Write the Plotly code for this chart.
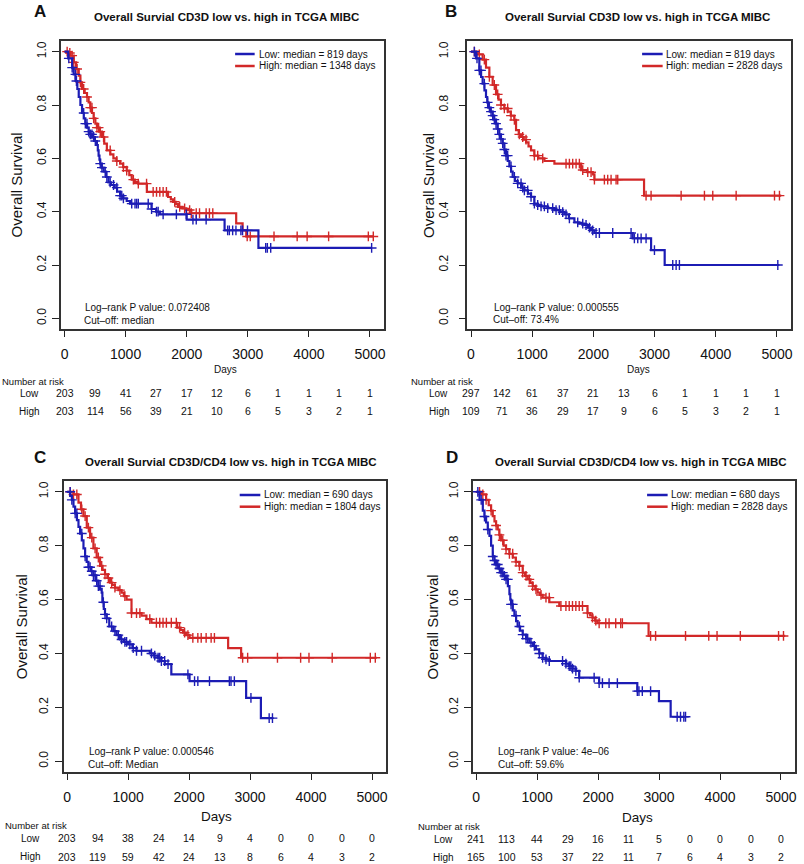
import plotly.graph_objects as go

W, H = 804, 864
FONT = "Arial, Liberation Sans, Helvetica, sans-serif"
BLUE = "#1c1cb4"
RED = "#d22828"
INK = "#111111"

# ---------------- data ----------------
x_ticks = [0, 1000, 2000, 3000, 4000, 5000]
y_ticks = [0.0, 0.2, 0.4, 0.6, 0.8, 1.0]
y_tick_text = ["0.0", "0.2", "0.4", "0.6", "0.8", "1.0"]
risk_days = [0, 500, 1000, 1500, 2000, 2500, 3000, 3500, 4000, 4500, 5000]

# Panel A
A_low_t = [0, 60, 125, 150, 180, 210, 233, 260, 287, 315, 341, 370, 395, 420, 450, 490, 530, 545, 558, 572, 585, 610,
           640, 680, 720, 760, 819, 860, 910, 960, 1018, 1072, 1425, 1500, 1560, 2000, 2620, 3174, 5027]
A_low_s = [1.0, .975, .94, .915, .89, .86, .83, .80, .77, .75, .73, .715, .70, .69, .68, .665, .65, .63, .61, .595, .58,
           .565, .55, .53, .51, .50, .49, .475, .46, .45, .44, .43, .41, .40, .39, .37, .33, .264, .264]
A_low_cens = [70, 125, 179, 195, 314, 341, 368, 395, 422, 449, 477, 504, 585, 612, 666, 693, 747, 802, 856, 910, 937,
              964, 1100, 1154, 1181, 1208, 1370, 1425, 1506, 1533, 1614, 1831, 1993, 2102, 2156, 2318, 2670, 2698,
              2752, 2806, 2887, 2914, 2995, 3293, 3320, 3375, 5027]
A_high_t = [0, 50, 97, 152, 190, 233, 260, 287, 330, 368, 395, 422, 450, 477, 505, 530, 570, 612, 650, 693, 750, 800,
            850, 910, 960, 1018, 1060, 1100, 1150, 1208, 1348, 1695, 1740, 1777, 1820, 1858, 1930, 1993, 2075, 2810,
            2915, 2975, 5054]
A_high_s = [1.0, .995, .985, .96, .935, .91, .885, .86, .845, .83, .81, .79, .77, .75, .73, .715, .70, .68, .655, .63,
            .615, .60, .59, .58, .567, .554, .537, .52, .512, .505, .474, .455, .446, .437, .428, .418, .412, .406,
            .394, .356, .33, .307, .307]
A_high_cens = [43, 87, 125, 152, 206, 260, 314, 368, 422, 449, 477, 531, 558, 585, 639, 748, 856, 964, 1018, 1127,
               1208, 1343, 1451, 1506, 1560, 1614, 1668, 1804, 1885, 1966, 2048, 2075, 2156, 2210, 2318, 2372, 2427,
               2990, 3040, 3429, 3808, 3971, 4323, 4973, 5054]
A_low_risk = [203, 99, 41, 27, 17, 12, 6, 1, 1, 1, 1]
A_high_risk = [203, 114, 56, 39, 21, 10, 6, 5, 3, 2, 1]

# Panel B
B_low_t = [0, 82, 136, 165, 190, 220, 245, 265, 283, 320, 354, 380, 409, 435, 463, 490, 518, 545, 572, 600, 627, 655,
           681, 720, 763, 819, 872, 930, 981, 1035, 1090, 1144, 1250, 1363, 1450, 1526, 1600, 1690, 1770, 1853, 1910,
           1962, 2017, 2643, 2943, 3165, 5040]
B_low_s = [1.0, .975, .93, .905, .88, .855, .83, .81, .79, .775, .76, .745, .73, .71, .69, .672, .656, .633, .61, .59,
           .57, .55, .53, .515, .506, .49, .48, .468, .456, .43, .425, .42, .413, .406, .398, .39, .375, .36, .355,
           .35, .34, .33, .32, .30, .256, .20, .20]
B_low_cens = [55, 98, 136, 163, 218, 272, 300, 327, 354, 381, 409, 436, 463, 490, 518, 545, 572, 599, 654, 709, 763,
              818, 845, 872, 927, 981, 1036, 1090, 1145, 1199, 1254, 1335, 1390, 1444, 1499, 1553, 1608, 1744, 1826,
              1880, 1935, 1989, 2044, 2098, 2316, 2616, 2670, 2725, 2780, 2861, 2998, 3297, 3352, 3406, 5014]
B_high_t = [0, 109, 190, 245, 300, 354, 409, 450, 490, 545, 600, 650, 708, 736, 780, 818, 860, 900, 940, 981, 1035,
            1100, 1200, 1363, 1800, 1900, 1990, 2017, 2828, 5070]
B_high_s = [1.0, .99, .97, .94, .906, .875, .84, .82, .80, .787, .775, .76, .744, .706, .69, .68, .67, .66, .645,
            .63, .61, .60, .59, .58, .556, .548, .54, .52, .46, .46]
B_high_cens = [55, 136, 218, 300, 381, 436, 490, 545, 599, 654, 709, 790, 845, 899, 1036, 1090, 1172, 1553, 1608,
               1662, 1717, 1771, 1826, 1908, 1962, 2017, 2180, 2234, 2289, 2371, 2398, 2861, 2943, 3434, 3815, 3951,
               4333, 4960, 5041]
B_low_risk = [297, 142, 61, 37, 21, 13, 6, 1, 1, 1, 1]
B_high_risk = [109, 71, 36, 29, 17, 9, 6, 5, 3, 2, 1]

# Panel C
C_low_t = [0, 50, 76, 103, 130, 160, 185, 212, 240, 267, 294, 320, 348, 390, 430, 470, 511, 540, 566, 577, 600, 620,
           648, 690, 756, 810, 865, 930, 1000, 1070, 1137, 1355, 1420, 1490, 1545, 1600, 1708, 2007, 2935, 3177, 3367]
C_low_s = [1.0, .985, .97, .945, .92, .895, .87, .845, .82, .79, .76, .74, .72, .705, .69, .67, .65, .64, .626, .59,
           .565, .545, .53, .50, .483, .468, .452, .443, .434, .42, .41, .40, .392, .384, .372, .36, .322, .297,
           .235, .16, .16]
C_low_cens = [49, 76, 131, 158, 239, 294, 348, 375, 403, 430, 457, 484, 511, 539, 593, 620, 648, 729, 783, 838, 892,
              946, 974, 1028, 1083, 1137, 1219, 1382, 1436, 1491, 1518, 1545, 1599, 1654, 1980, 2089, 2143, 2334,
              2660, 2687, 2742, 3014, 3313, 3367]
C_high_t = [0, 103, 185, 226, 267, 321, 375, 430, 484, 539, 580, 620, 660, 702, 740, 783, 840, 892, 930, 974, 1055,
            1219, 1300, 1382, 1804, 1860, 1899, 1950, 2007, 2640, 2853, 5080]
C_high_s = [1.0, .99, .96, .935, .91, .867, .83, .79, .756, .725, .71, .694, .68, .663, .654, .644, .635, .626, .613,
            .60, .55, .54, .527, .514, .496, .487, .477, .468, .458, .42, .384, .384]
C_high_cens = [49, 103, 158, 239, 294, 348, 403, 457, 511, 566, 620, 675, 729, 783, 865, 946, 1055, 1137, 1192, 1355,
               1463, 1518, 1572, 1627, 1708, 1790, 1844, 1926, 1980, 2061, 2143, 2198, 2279, 2361, 2415, 2878, 2960,
               3449, 3829, 3966, 4347, 4972, 5054]
C_low_risk = [203, 94, 38, 24, 14, 9, 4, 0, 0, 0, 0]
C_high_risk = [203, 119, 59, 42, 24, 13, 8, 6, 4, 3, 2]

# Panel D
D_low_t = [0, 55, 109, 136, 163, 190, 218, 245, 272, 300, 327, 370, 409, 450, 490, 520, 545, 560, 572, 600, 627, 655,
           680, 720, 763, 818, 872, 930, 981, 1035, 1090, 1145, 1199, 1472, 1526, 1580, 1635, 1690, 2017, 2643, 2998,
           3190, 3434]
D_low_s = [1.0, .97, .93, .908, .886, .86, .836, .80, .76, .745, .73, .715, .70, .688, .675, .65, .62, .60, .582, .56,
           .54, .52, .50, .485, .47, .455, .44, .428, .415, .40, .384, .378, .372, .362, .353, .344, .335, .31, .29,
           .26, .223, .165, .165]
D_low_cens = [27, 82, 136, 191, 272, 300, 327, 354, 381, 409, 436, 463, 490, 518, 572, 599, 654, 709, 763, 818, 845,
              899, 954, 1036, 1090, 1145, 1199, 1417, 1472, 1526, 1553, 1580, 1635, 1690, 1935, 2017, 2071, 2180,
              2316, 2643, 2670, 2725, 2861, 3297, 3352, 3406, 3434]
D_high_t = [0, 82, 163, 205, 245, 272, 300, 327, 354, 380, 409, 450, 490, 545, 600, 650, 708, 763, 800, 845, 890, 927,
            970, 1008, 1050, 1090, 1200, 1363, 1826, 1870, 1908, 1950, 1990, 2828, 5070]
D_high_s = [1.0, .99, .97, .95, .93, .91, .89, .875, .86, .84, .82, .80, .787, .77, .756, .74, .725, .70, .688, .675,
            .662, .65, .638, .626, .617, .607, .59, .576, .55, .541, .533, .522, .512, .465, .465]
D_high_cens = [55, 109, 163, 245, 327, 381, 436, 490, 545, 599, 654, 709, 763, 818, 872, 927, 981, 1063, 1145, 1199,
               1390, 1472, 1526, 1580, 1635, 1690, 1744, 1826, 1908, 1962, 2017, 2126, 2180, 2289, 2371, 2398, 2861,
               2943, 3434, 3815, 3951, 4333, 4960, 5041]
D_low_risk = [241, 113, 44, 29, 16, 11, 5, 0, 0, 0, 0]
D_high_risk = [165, 100, 53, 37, 22, 11, 7, 6, 4, 3, 2]

titles = ["Overall Survial CD3D low vs. high in TCGA MIBC",
          "Overall Survial CD3D low vs. high in TCGA MIBC",
          "Overall Survial CD3D/CD4 low vs. high in TCGA MIBC",
          "Overall Survial CD3D/CD4 low vs. high in TCGA MIBC"]
panel_letters = ["A", "B", "C", "D"]
low_labels = ["Low: median = 819 days", "Low: median = 819 days",
              "Low: median = 690 days", "Low: median = 680 days"]
high_labels = ["High: median = 1348 days", "High: median = 2828 days",
               "High: median = 1804 days", "High: median = 2828 days"]
pvalues = ["Log–rank P value: 0.072408", "Log–rank P value: 0.000555",
           "Log–rank P value: 0.000546", "Log–rank P value: 4e–06"]
cutoffs = ["Cut–off: median", "Cut–off: 73.4%", "Cut–off: Median", "Cut–off: 59.6%"]

# ---------------- layout geometry (pixels) ----------------
geom = [
    dict(box=(61, 41, 385, 329), letter=(40.5, 11), title=(227.5, 16.7), ylab=17.5, leg=(235.7, 255.3, 257.5, 54, 66),
         pv=(83, 307.7), co=(82.5, 320), days=(226, 370, 10), nar=(0, 381.7), low=(29.5, 393), high=(29.5, 411),
         ystand=1),
    dict(box=(468.5, 41, 793, 329), letter=(452.5, 11), title=(638.8, 16.7), ylab=430,
         leg=(643.7, 664.3, 666, 54, 66), pv=(493.3, 307.7), co=(492, 319.3), days=(640, 370, 10),
         nar=(410, 381.7), low=(440, 393.3), high=(440.5, 411), ystand=6),
    dict(box=(63.7, 481, 387, 772), letter=(40, 457.5), title=(232, 462.3), ylab=21.7,
         leg=(240.3, 261, 263, 495, 506.7), pv=(87, 751.7), co=(86, 764.3), days=(217, 816.7, 13.5),
         nar=(3.3, 825.7), low=(31, 838.3), high=(30.8, 856.7), ystand=2),
    dict(box=(473.7, 481, 797, 772), letter=(453, 457), title=(642.8, 462.3), ylab=434,
         leg=(648.7, 669.3, 671, 495, 506.7), pv=(497.7, 751.7), co=(497, 764.3), days=(639.5, 817.3, 13.5),
         nar=(416.7, 826.7), low=(445, 839), high=(445, 857), ystand=1),
]

curves = [
    (A_low_t, A_low_s, A_low_cens, A_high_t, A_high_s, A_high_cens, A_low_risk, A_high_risk),
    (B_low_t, B_low_s, B_low_cens, B_high_t, B_high_s, B_high_cens, B_low_risk, B_high_risk),
    (C_low_t, C_low_s, C_low_cens, C_high_t, C_high_s, C_high_cens, C_low_risk, C_high_risk),
    (D_low_t, D_low_s, D_low_cens, D_high_t, D_high_s, D_high_cens, D_low_risk, D_high_risk),
]


def px(x):
    return x / W


def py(y):
    return 1 - y / H


def surv_at(ts, ss, t):
    v = ss[0]
    for ti, si in zip(ts, ss):
        if ti <= t:
            v = si
        else:
            break
    return v


fig = go.Figure()
annotations = []
shapes = []
layout = {}

for i, (g, c) in enumerate(zip(geom, curves)):
    s = "" if i == 0 else str(i + 1)
    xa, ya = "x" + s, "y" + s
    lt, ls, lc, ht, hs, hc, lrisk, hrisk = c
    l, t, r, b = g["box"]

    for ts, ss, cens, col in ((ht, hs, hc, RED), (lt, ls, lc, BLUE)):
        fig.add_trace(go.Scatter(x=ts, y=ss, mode="lines", line=dict(color=col, width=2.2, shape="hv"),
                                 xaxis=xa, yaxis=ya, showlegend=False, hoverinfo="skip"))
        fig.add_trace(go.Scatter(x=cens, y=[surv_at(ts, ss, tc) for tc in cens], mode="markers",
                                 marker=dict(symbol="cross-thin", size=7, line=dict(color=col, width=1.4)),
                                 xaxis=xa, yaxis=ya, showlegend=False, hoverinfo="skip"))

    layout["xaxis" + s] = dict(domain=[px(l), px(r)], range=[-60, 5230], anchor=ya, tickvals=x_ticks,
                               ticks="outside", ticklen=6, tickwidth=1.2, tickcolor="#222",
                               showline=True, mirror=True, linecolor="#333", linewidth=1.5,
                               showgrid=False, zeroline=False, ticklabelstandoff=5, fixedrange=True,
                               tickfont=dict(size=14, color=INK, family=FONT))
    layout["yaxis" + s] = dict(domain=[py(b), py(t)], range=[-0.04, 1.04], anchor=xa, tickvals=y_ticks,
                               ticktext=y_tick_text, tickangle=-90,
                               ticks="outside", ticklen=7, tickwidth=1.2, tickcolor="#222",
                               showline=True, mirror=True, linecolor="#333", linewidth=1.5,
                               showgrid=False, zeroline=False, ticklabelstandoff=g["ystand"], fixedrange=True,
                               tickfont=dict(size=12, color=INK, family=FONT))

    def ann(text, x, y, size, xanchor="center", bold=False, angle=0, xref="paper"):
        annotations.append(dict(text=("<b>%s</b>" % text) if bold else text,
                                x=x if xref != "paper" else px(x), y=py(y), xref=xref, yref="paper",
                                xanchor=xanchor, yanchor="middle", showarrow=False, textangle=angle,
                                font=dict(size=size, color=INK, family=FONT)))

    ann(panel_letters[i], g["letter"][0], g["letter"][1], 17, bold=True)
    ann(titles[i], g["title"][0], g["title"][1], 11.5, bold=True)
    ann("Overall Survival", g["ylab"], (t + b) / 2, 15, angle=-90)

    x0, x1, xt, r1, r2 = g["leg"]
    for yy, col, lab in ((r1, BLUE, low_labels[i]), (r2, RED, high_labels[i])):
        shapes.append(dict(type="line", xref="paper", yref="paper", x0=px(x0), x1=px(x1), y0=py(yy), y1=py(yy),
                           line=dict(color=col, width=2.5)))
        ann(lab, xt, yy, 10, xanchor="left")

    ann(pvalues[i], g["pv"][0], g["pv"][1], 10, xanchor="left")
    ann(cutoffs[i], g["co"][0], g["co"][1], 10, xanchor="left")
    ann("Days", g["days"][0], g["days"][1], g["days"][2])
    ann("Number at risk", g["nar"][0], g["nar"][1], 9.5, xanchor="left")
    ann("Low", g["low"][0], g["low"][1], 10)
    ann("High", g["high"][0], g["high"][1], 10)
    for d, nl, nh in zip(risk_days, lrisk, hrisk):
        ann(str(nl), d, g["low"][1], 10.5, xref=xa)
        ann(str(nh), d, g["high"][1], 10.5, xref=xa)

fig.update_layout(width=W, height=H, margin=dict(l=0, r=0, t=0, b=0), paper_bgcolor="white",
                  plot_bgcolor="white", font=dict(family=FONT, color=INK), showlegend=False,
                  hovermode=False, annotations=annotations, shapes=shapes, **layout)

fig.write_html("out.html", config={"displayModeBar": False},
               post_script="document.body.style.margin='0px';")
